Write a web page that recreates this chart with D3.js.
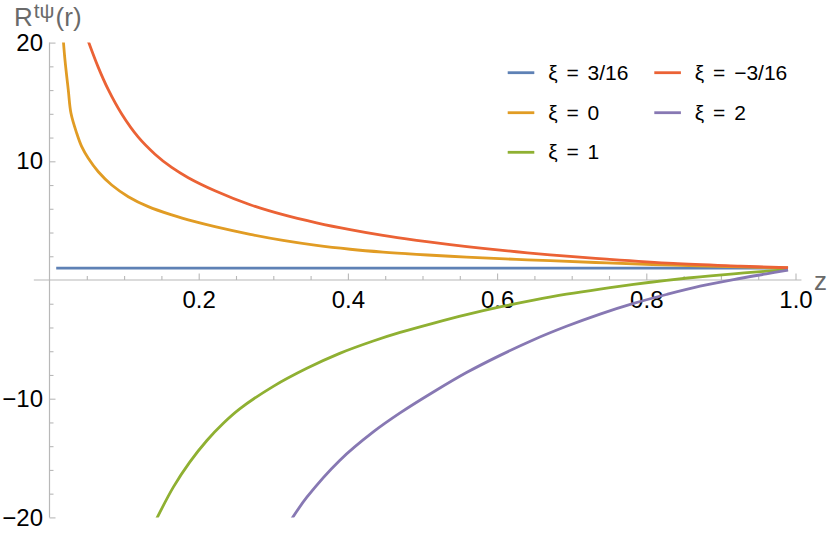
<!DOCTYPE html>
<html>
<head>
<meta charset="utf-8">
<script src="https://cdn.jsdelivr.net/npm/d3@7"></script>
<style>
  html, body { margin: 0; padding: 0; background: #fff; }
  svg { display: block; font-family: "Liberation Sans", Arial, sans-serif; }
</style>
</head>
<body>
<svg id="chart" width="830" height="535"></svg>
<script>
// ---------------- data ----------------
const seriesNames = ["ξ = 3/16", "ξ = 0", "ξ = 1", "ξ = −3/16", "ξ = 2"];
const seriesColors = ["#5E81B5", "#E19C24", "#8FB032", "#EB6235", "#8778B3"];

const zBlue = [0.009, 0.99];
const vBlue = [1.0, 1.0];

const zOrange = [0.0185, 0.0208, 0.0252, 0.0288, 0.0365, 0.0432, 0.052, 0.0654, 0.0834, 0.1056, 0.1324, 0.1638, 0.195, 0.2218, 0.269, 0.313, 0.358, 0.403, 0.447, 0.492, 0.537, 0.581, 0.626, 0.671, 0.747, 0.836, 0.926, 0.99];
const vOrange = [20.2, 18.5, 16.0, 14.04, 12.36, 11.23, 10.25, 9.12, 8.0, 7.02, 6.18, 5.48, 4.91, 4.49, 3.84, 3.33, 2.91, 2.59, 2.35, 2.16, 2.0, 1.86, 1.74, 1.63, 1.44, 1.25, 1.1, 1.02];

const zGreen = [0.1437, 0.166, 0.188, 0.211, 0.233, 0.255, 0.300, 0.345, 0.389, 0.434, 0.470, 0.514, 0.559, 0.604, 0.649, 0.693, 0.738, 0.783, 0.827, 0.872, 0.917, 0.961, 0.99];
const vGreen = [-20.1, -17.45, -15.34, -13.52, -12.07, -10.86, -8.96, -7.44, -6.18, -5.14, -4.42, -3.65, -2.92, -2.27, -1.70, -1.20, -0.76, -0.37, -0.03, 0.27, 0.52, 0.74, 0.88];

const zRed = [0.0515, 0.0654, 0.0788, 0.0968, 0.119, 0.1414, 0.1638, 0.186, 0.2218, 0.269, 0.313, 0.358, 0.403, 0.447, 0.492, 0.537, 0.581, 0.626, 0.671, 0.747, 0.836, 0.926, 0.99];
const vRed = [20.2, 17.91, 16.03, 13.98, 12.03, 10.6, 9.48, 8.62, 7.52, 6.34, 5.5, 4.82, 4.24, 3.75, 3.34, 2.98, 2.66, 2.38, 2.12, 1.76, 1.40, 1.17, 1.03];

const zPurple = [0.325, 0.345, 0.389, 0.434, 0.470, 0.514, 0.559, 0.604, 0.649, 0.693, 0.738, 0.783, 0.827, 0.872, 0.917, 0.961, 0.99];
const vPurple = [-20.1, -18.3, -15.2, -12.8, -11.2, -9.46, -7.8, -6.35, -5.03, -3.9, -2.87, -1.97, -1.22, -0.52, 0.04, 0.52, 0.83];

const xMajorTicks = [0.2, 0.4, 0.6, 0.8, 1.0];
const xMinorTicks = [0.05, 0.1, 0.15, 0.25, 0.3, 0.35, 0.45, 0.5, 0.55, 0.65, 0.7, 0.75, 0.85, 0.9, 0.95];
const yMajorTicks = [-20, -10, 10, 20];
const yMinorTicks = [-18, -16, -14, -12, -8, -6, -4, -2, 2, 4, 6, 8, 12, 14, 16, 18];

const xAxisLabel = "z";
const yAxisLabelMain = "R";
const yAxisLabelSup = "tψ";
const yAxisLabelTail = "(r)";

// ---------------- drawing ----------------
const svg = d3.select("#chart");
const x = d3.scaleLinear().domain([0, 1]).range([49.5, 795.5]);
const y = d3.scaleLinear().domain([-20, 20]).range([517.4, 42.6]);

const axisColor = "#b8b8b8";
const labelGray = "#6a6a6a";

// axis lines
svg.append("line")
  .attr("x1", x(-0.021)).attr("x2", x(1.008))
  .attr("y1", y(0)).attr("y2", y(0))
  .attr("stroke", axisColor).attr("stroke-width", 1.2);
svg.append("line")
  .attr("x1", x(0)).attr("x2", x(0))
  .attr("y1", y(20)).attr("y2", y(-20))
  .attr("stroke", axisColor).attr("stroke-width", 1.2);

// x ticks
const gx = svg.append("g").attr("transform", `translate(0,${y(0)})`);
gx.append("g").call(d3.axisBottom(x).tickValues(xMinorTicks).tickSize(-4).tickFormat(""))
  .call(g => g.select(".domain").remove());
gx.append("g").call(d3.axisBottom(x).tickValues(xMajorTicks).tickSize(-6.5).tickFormat(d3.format(".1f")))
  .call(g => g.select(".domain").remove())
  .call(g => g.selectAll("text").attr("dy", null).attr("y", 28)
     .attr("font-size", 24).attr("fill", "#000").attr("font-family", "Liberation Sans, Arial, sans-serif"));
gx.selectAll("line").attr("stroke", axisColor).attr("stroke-width", 1.1);

// y ticks
const gy = svg.append("g").attr("transform", `translate(${x(0)},0)`);
gy.append("g").call(d3.axisLeft(y).tickValues(yMinorTicks).tickSize(-4).tickFormat(""))
  .call(g => g.select(".domain").remove());
gy.append("g").call(d3.axisLeft(y).tickValues(yMajorTicks).tickSize(-6).tickPadding(6.5).tickFormat(d3.format("d")))
  .call(g => g.select(".domain").remove())
  .call(g => g.selectAll("text").attr("font-size", 24).attr("fill", "#000")
     .attr("font-family", "Liberation Sans, Arial, sans-serif"));
gy.selectAll("line").attr("stroke", axisColor).attr("stroke-width", 1.1);

// clip
svg.append("clipPath").attr("id", "plotclip").append("rect")
  .attr("x", x(-0.02)).attr("y", y(20))
  .attr("width", x(1.02) - x(-0.02)).attr("height", y(-20) - y(20));

const series = [
  { z: zBlue, v: vBlue },
  { z: zOrange, v: vOrange },
  { z: zGreen, v: vGreen },
  { z: zRed, v: vRed },
  { z: zPurple, v: vPurple }
];

const line = d3.line().x(d => x(d[0])).y(d => y(d[1])).curve(d3.curveCatmullRom.alpha(0.5));
const plot = svg.append("g").attr("clip-path", "url(#plotclip)");
series.forEach((s, i) => {
  plot.append("path")
    .datum(s.z.map((z, k) => [z, s.v[k]]))
    .attr("d", line)
    .attr("fill", "none")
    .attr("stroke", seriesColors[i])
    .attr("stroke-width", 2.8)
    .attr("stroke-linejoin", "round");
});

// axis labels
const yl = svg.append("text").attr("x", 14).attr("y", 26)
  .attr("fill", labelGray).attr("font-size", 26);
yl.append("tspan").text(yAxisLabelMain);
yl.append("tspan").attr("font-size", 21).attr("dy", -8).attr("dx", 1).text(yAxisLabelSup);
yl.append("tspan").attr("font-size", 26).attr("dy", 8).attr("dx", 1).text(yAxisLabelTail);

svg.append("text").attr("x", 814).attr("y", 290)
  .attr("fill", labelGray).attr("font-size", 26).text(xAxisLabel);

// legend (column-major, 3 rows)
const legendX = [507.7, 654.3];
const legendY = [72.7, 112.7, 152.3];
seriesNames.forEach((name, i) => {
  const col = Math.floor(i / 3), row = i % 3;
  const g = svg.append("g").attr("transform", `translate(${legendX[col]},${legendY[row]})`);
  g.append("line").attr("x1", 0).attr("x2", 26.6).attr("y1", 0).attr("y2", 0)
    .attr("stroke", seriesColors[i]).attr("stroke-width", 2.8);
  g.append("text").attr("x", 40.5).attr("y", 7)
    .attr("font-size", 21).attr("fill", "#000")
    .attr("word-spacing", 3)
    .text(name);
});
</script>
</body>
</html>
